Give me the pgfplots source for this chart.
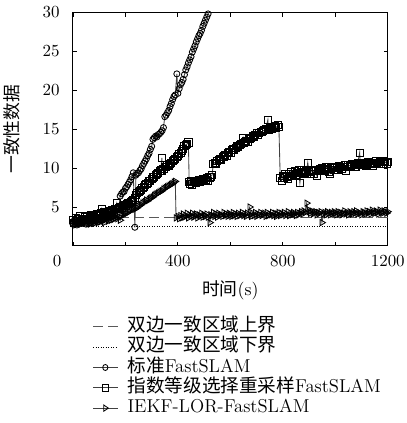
\documentclass[border=0pt]{standalone}
\usepackage{fontspec}
\usepackage{pgfplots}
\pgfplotsset{compat=1.18}
\newfontfamily\cjk{Noto Sans CJK SC}

\begin{document}
\begin{tikzpicture}
\begin{axis}[
  scale only axis,
  width=186pt, height=138pt,
  xmin=0, xmax=1200, ymin=0, ymax=30,
  xtick={200,400,...,1200},
  xticklabels={,400,,800,,1200},
  extra x ticks={0},
  extra x tick labels={0},
  extra x tick style={xticklabel style={xshift=-9.4pt}},
  ytick={5,10,...,30},
  tick align=inside,
  major tick length=2.5pt,
  tick style={black, line width=0.5pt},
  axis line style={line width=0.6pt},
  yticklabel style={xshift=-4.4pt},
  xticklabel style={yshift=-2pt},
  xlabel={{\cjk 时间}(s)},
  ylabel={{\cjk 一致性数据}},
  label style={font=\fontsize{10.5}{12}\selectfont},
  xlabel style={at={(axis description cs:0.5,-0.19)}, anchor=center},
  ylabel style={at={(axis description cs:-0.195,0.5)}, anchor=center},
  legend style={draw=none, fill=none, at={(axis description cs:0.045,-0.287)},
    anchor=north west, row sep=0pt, font=\fontsize{11}{13}\selectfont,
    nodes={text height=8pt, text depth=2.6pt, inner ysep=0.7pt, inner xsep=2.6pt},
    /tikz/every odd column/.append style={column sep=3pt}},
  legend image post style={xscale=0.85},
  legend cell align=left,
  every axis plot/.append style={line width=0.5pt},
]
% bounds
\addplot[black!65, dash pattern=on 6pt off 3pt, line width=0.6pt] coordinates {(0,3.7) (1200,3.7)};
\addlegendentry{{\cjk 双边一致区域上界}}
\addplot[black, densely dotted, line width=0.6pt] coordinates {(0,2.45) (1200,2.45)};
\addlegendentry{{\cjk 双边一致区域下界}}
% standard FastSLAM
\addplot[black!75, mark=o, mark size=1.8pt, mark options={black, solid, line width=0.5pt}] coordinates {
(0,2.8) (5,3.3) (10,3.0) (15,2.7) (20,3.2) (25,3.0) (30,3.4) (35,2.9) (40,3.1) (45,3.3) (50,2.8)
(55,3.2) (60,3.5) (65,3.0) (70,3.3) (75,2.9) (80,3.4) (85,3.2) (90,3.6) (95,3.1) (100,3.4) (105,3.7)
(110,3.3) (115,3.6) (120,3.9) (125,3.5) (130,3.8) (135,4.1) (140,3.9) (145,4.3) (150,4.2) (155,4.6)
(160,4.4) (165,4.8) (170,4.7) (175,5.0) (180,6.4) (185,6.7) (190,6.9) (195,7.0) (200,7.4) (205,7.6)
(210,7.9) (215,8.2) (220,8.5) (225,8.9) (230,9.4) (236,2.4) (240,9.1) (245,9.3) (250,9.4) (255,9.7)
(260,9.9) (265,10.3) (270,10.6) (275,10.9) (280,11.2) (285,11.6) (290,11.9) (295,12.4) (300,12.8)
(305,13.7) (310,13.9) (315,14.1) (320,14.0) (325,14.3) (330,14.4) (335,14.6) (340,14.8) (345,15.2)
(350,16.6) (355,16.8) (360,17.1) (365,17.4) (370,17.9) (375,18.3) (380,18.8) (385,19.2) (390,19.4)
(396,22.1) (400,19.6) (405,20.2) (410,20.7) (415,21.0) (420,21.4) (425,22.0) (430,22.6) (435,23.0)
(440,23.5) (445,23.9) (450,24.3) (455,24.9) (460,25.3) (465,25.7) (470,26.2) (475,26.6) (480,27.0)
(485,27.3) (490,27.7) (495,28.2) (500,28.6) (505,29.0) (510,29.4) (515,29.8) (520,30.2) (525,30.6)
};
\addlegendentry{{\cjk 标准}FastSLAM}
% exponential rank selection resampling
\addplot[black!75, mark=square, mark size=2.1pt, mark options={black, solid, line width=0.5pt}] coordinates {
(0,3.3) (5,3.0) (10,3.6) (15,3.2) (20,3.4) (25,3.8) (30,3.1) (35,3.5) (40,3.3) (45,3.7) (50,3.4)
(55,3.9) (60,3.5) (65,3.6) (70,4.0) (75,3.7) (80,3.9) (85,3.6) (90,4.1) (95,3.8) (100,4.0) (105,4.2)
(110,4.8) (115,4.1) (120,4.3) (125,4.0) (130,4.4) (135,4.2) (140,4.5) (145,4.3) (150,4.6) (155,4.4)
(160,4.7) (167,5.5) (170,4.8) (175,4.9) (180,5.0) (185,4.9) (190,5.1) (195,5.3) (200,5.2) (205,5.4)
(210,5.5) (215,5.4) (220,5.6) (225,5.8) (230,5.9) (235,6.2) (240,6.6) (245,6.8) (250,6.9) (255,7.1)
(260,7.2) (265,7.4) (270,7.6) (275,7.8) (280,8.0) (285,8.1) (290,8.3) (295,8.4) (300,8.6) (305,8.8)
(310,8.9) (315,9.1) (320,9.2) (325,9.4) (330,9.6) (335,9.7) (339,11.3) (340,9.7) (345,9.9) (350,10.1)
(355,10.2) (360,10.4) (365,10.3) (370,10.5) (375,10.7) (380,10.9) (385,11.0) (390,11.2) (395,11.4)
(400,11.6) (405,11.8) (410,12.0) (415,12.2) (420,12.5) (425,12.8) (430,13.0) (435,13.1) (440,13.3)
(443,8.2) (445,8.0) (450,8.3) (455,7.9) (460,8.2) (465,8.4) (470,8.1) (475,8.3) (480,8.5) (485,8.2)
(490,8.4) (495,8.6) (500,8.3) (505,8.5) (510,8.7) (515,8.4) (520,8.8) (525,8.9) (530,9.1) (535,10.5)
(540,10.7) (545,10.6) (550,10.9) (555,11.0) (560,11.2) (565,11.1) (570,11.4) (575,11.5) (580,11.7)
(585,11.6) (590,11.9) (595,12.1) (600,12.0) (605,12.3) (610,12.4) (615,12.3) (620,12.6) (625,12.8)
(630,12.7) (635,13.0) (640,13.1) (648,13.9) (650,13.2) (655,13.4) (660,13.5) (665,13.4) (670,13.7)
(675,13.8) (680,13.9) (685,14.1) (690,14.0) (695,14.3) (700,14.5) (705,14.3) (710,14.5) (715,14.7)
(720,14.6) (725,14.8) (730,14.9) (735,15.0) (743,16.2) (745,14.9) (750,15.1) (755,15.2) (760,15.0)
(765,15.3) (770,15.4) (775,15.2) (780,15.5) (785,15.3) (790,8.7) (795,8.4) (800,9.0) (805,8.8)
(810,9.3) (815,8.9) (820,8.6) (825,9.2) (830,9.5) (835,9.0) (840,9.3) (845,9.6) (850,9.1) (855,9.4)
(860,9.7) (865,8.1) (870,9.5) (875,9.3) (880,9.8) (885,9.4) (890,9.6) (895,10.7) (900,9.5) (905,9.2)
(910,9.8) (915,9.6) (920,9.3) (925,9.7) (930,9.0) (935,9.8) (940,9.9) (945,9.6) (950,10.0) (955,9.8)
(960,9.7) (965,10.1) (970,9.9) (975,9.5) (980,9.3) (985,10.0) (990,10.1) (995,9.8) (1000,10.2)
(1005,10.0) (1010,9.8) (1015,10.3) (1020,10.2) (1025,9.9) (1030,10.1) (1035,10.4) (1040,9.6)
(1045,10.2) (1050,10.4) (1055,10.3) (1060,10.1) (1065,10.5) (1070,10.4) (1075,10.2) (1080,10.1)
(1085,10.6) (1093,12.0) (1095,10.5) (1100,10.4) (1105,10.7) (1110,10.5) (1115,10.3) (1120,10.4)
(1125,10.8) (1130,10.5) (1135,10.6) (1140,10.7) (1145,10.3) (1150,10.5) (1155,10.9) (1160,10.7)
(1165,10.5) (1170,10.8) (1175,10.6) (1180,10.5) (1185,10.9) (1190,10.8) (1195,10.6) (1200,10.8)
};
\addlegendentry{{\cjk 指数等级选择重采样}FastSLAM}
% IEKF-LOR-FastSLAM
\addplot[black!75, mark=triangle, mark size=2.1pt, mark options={black, solid, rotate=-90, line width=0.5pt}] coordinates {
(0,2.9) (5,3.2) (10,2.7) (15,3.1) (20,2.9) (25,3.3) (30,2.8) (35,3.1) (40,3.0) (45,3.4) (50,2.9)
(55,3.2) (60,3.0) (65,2.8) (70,3.3) (75,3.1) (80,2.9) (85,3.2) (90,3.4) (95,3.0) (100,3.3) (105,3.1)
(110,3.5) (115,3.2) (120,3.0) (125,3.4) (130,3.6) (135,3.2) (140,3.5) (145,3.3) (150,3.7) (155,3.4)
(160,3.6) (165,3.9) (170,3.5) (175,3.8) (180,3.3) (185,3.9) (190,4.1) (195,4.0) (200,4.3) (205,4.2)
(210,4.5) (215,4.4) (220,4.6) (225,4.7) (230,4.8) (235,4.7) (240,5.0) (245,4.9) (250,5.1) (255,5.2)
(260,5.3) (265,5.5) (270,5.6) (275,5.7) (280,5.9) (285,5.8) (290,6.0) (295,6.1) (300,6.2) (305,6.3)
(310,6.5) (315,6.6) (320,6.7) (325,6.8) (330,6.9) (335,7.0) (340,7.1) (345,7.3) (350,7.4) (355,7.5)
(360,7.6) (365,7.7) (370,7.8) (375,7.9) (380,8.0) (385,8.2) (390,8.3) (393,3.6) (400,3.8) (405,3.5)
(410,3.9) (415,3.6) (420,4.1) (425,3.7) (430,3.9) (435,4.2) (440,3.6) (445,4.0) (450,3.8) (455,4.2)
(460,3.7) (465,3.9) (470,4.1) (475,3.6) (480,4.0) (485,3.8) (490,4.2) (495,3.7) (500,4.0) (505,3.8)
(510,4.1) (515,3.7) (522,3.0) (525,4.0) (530,3.9) (535,4.3) (540,3.8) (545,4.1) (550,3.7) (555,4.2)
(560,3.9) (565,4.0) (570,3.8) (575,4.3) (580,3.9) (585,4.1) (590,3.8) (595,4.2) (600,4.0) (605,3.8)
(610,4.3) (615,3.9) (620,4.1) (625,3.8) (630,4.2) (635,3.9) (640,4.0) (645,4.3) (650,3.9) (655,4.1)
(660,3.8) (665,4.2) (674,5.0) (675,4.0) (680,3.8) (685,4.2) (690,3.9) (695,4.3) (700,3.8) (705,4.1)
(710,4.0) (715,4.3) (720,3.9) (725,4.1) (730,4.2) (735,3.8) (740,4.3) (745,3.9) (750,4.1) (755,4.0)
(760,4.3) (765,3.9) (770,4.2) (775,3.8) (780,4.1) (785,4.3) (790,3.9) (795,4.2) (800,4.0) (805,4.3)
(810,3.9) (815,4.1) (820,4.4) (825,3.9) (830,4.2) (835,4.0) (840,4.3) (845,4.1) (850,3.9) (855,4.3)
(860,4.0) (865,4.2) (870,4.4) (875,4.1) (880,4.5) (885,4.3) (891,5.5) (895,4.7) (900,4.4) (905,4.2)
(910,4.5) (915,4.1) (920,4.3) (925,4.4) (930,4.0) (935,4.3) (940,4.2) (945,4.4) (949,3.0) (955,4.1)
(960,4.3) (965,4.0) (970,4.4) (975,4.2) (980,4.0) (985,4.3) (990,4.1) (995,4.4) (1000,4.2) (1005,4.0)
(1010,4.4) (1015,4.1) (1020,4.3) (1025,4.0) (1030,4.2) (1035,4.5) (1040,4.1) (1045,4.3) (1050,4.0)
(1055,4.4) (1060,4.2) (1065,4.1) (1070,4.4) (1075,4.2) (1080,4.5) (1085,4.1) (1090,4.3) (1095,4.2)
(1100,4.0) (1105,4.4) (1110,4.3) (1115,4.1) (1120,4.5) (1125,4.2) (1130,4.4) (1135,4.1) (1140,4.6)
(1145,4.3) (1150,4.2) (1155,4.5) (1160,4.3) (1165,4.1) (1170,4.6) (1175,4.3) (1180,4.2) (1185,4.5)
(1190,4.4) (1195,4.2) (1200,4.4)
};
\addlegendentry{IEKF-LOR-FastSLAM}
\end{axis}
\pgfresetboundingbox
\useasboundingbox (-43.1pt,-104.6pt) rectangle (197.3pt,145.3pt);
\end{tikzpicture}
\end{document}
